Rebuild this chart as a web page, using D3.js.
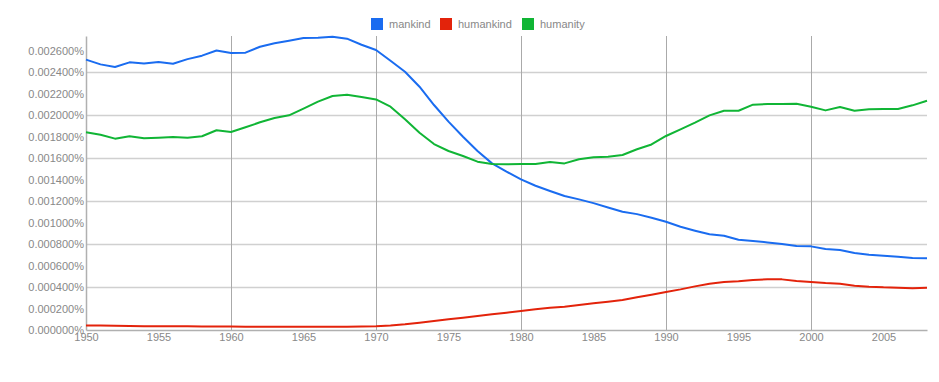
<!DOCTYPE html>
<html>
<head>
<meta charset="utf-8">
<script src="https://cdn.jsdelivr.net/npm/d3@7"></script>
<style>
  body { margin: 0; background: #fff; }
  text { font-family: Arial, "Liberation Sans", sans-serif; }
</style>
</head>
<body>
<div id="chart"></div>
<script>
const years = d3.range(1950, 2009);
const seriesNames = ["mankind", "humankind", "humanity"];
const seriesColors = ["#1a6cf0", "#e3230b", "#10b535"];

const mankind = [
  0.002515, 0.002471, 0.002446, 0.00249, 0.00248, 0.002493, 0.002477, 0.00252, 0.002552, 0.0026,
  0.002577, 0.00258, 0.002635, 0.002667, 0.002691, 0.002716, 0.002719, 0.002728, 0.00271, 0.002654,
  0.002605, 0.002505, 0.002403, 0.002263, 0.002093, 0.001938, 0.001798, 0.001665, 0.00155, 0.001473,
  0.001402, 0.001342, 0.001293, 0.001246, 0.001215, 0.00118, 0.00114, 0.0011, 0.001078, 0.001045,
  0.001007, 0.000961, 0.000924, 0.00089, 0.000877, 0.00084, 0.000828, 0.000815, 0.0008, 0.000781,
  0.000778, 0.000753, 0.000744, 0.000716, 0.0007, 0.000691, 0.000682, 0.00067, 0.000667
];
const humankind = [
  0.000042, 0.000041, 0.00004, 0.000038, 0.000036, 0.000035, 0.000034, 0.000034, 0.000033, 0.000033,
  0.000032, 0.000031, 0.000031, 0.00003, 0.00003, 0.00003, 0.00003, 0.00003, 0.000031, 0.000033,
  0.000036, 0.000043, 0.000053, 0.000068, 0.000084, 0.0001, 0.000115, 0.00013, 0.000146, 0.000161,
  0.000177, 0.000193, 0.000207, 0.000217, 0.000233, 0.000248, 0.000263, 0.000279, 0.000304, 0.000328,
  0.000354, 0.000378, 0.000406, 0.000431, 0.000446, 0.000453, 0.000465, 0.000471, 0.000471, 0.000456,
  0.000446, 0.000437, 0.000431, 0.000412, 0.000403, 0.000397, 0.000394, 0.000388, 0.000394
];
const humanity = [
  0.001839, 0.001817, 0.00178, 0.001802, 0.001783, 0.001789, 0.001795, 0.001789, 0.001802, 0.001858,
  0.001842, 0.001886, 0.001932, 0.001972, 0.001997, 0.002059, 0.002124, 0.002177, 0.002189, 0.002167,
  0.002145, 0.002077, 0.00196, 0.001835, 0.00173, 0.001665, 0.001619, 0.001566, 0.001544, 0.001541,
  0.001544, 0.001544, 0.001563, 0.00155, 0.001588, 0.001607, 0.001612, 0.001628, 0.001681, 0.001726,
  0.001805, 0.001867, 0.001929, 0.001997, 0.00204, 0.00204, 0.002096, 0.002102, 0.002102, 0.002105,
  0.002077, 0.002043, 0.002074, 0.00204, 0.002053, 0.002056, 0.002056, 0.00209, 0.002133
];
const yLabelTicks = [0, 0.0002, 0.0004, 0.0006, 0.0008, 0.001, 0.0012, 0.0014, 0.0016, 0.0018, 0.002, 0.0022, 0.0024, 0.0026];
const yGridTicks = [0.0004, 0.0008, 0.0012, 0.0016, 0.002, 0.0024];
const xLabelTicks = [1950, 1955, 1960, 1965, 1970, 1975, 1980, 1985, 1990, 1995, 2000, 2005];
const xGridTicks = [1960, 1970, 1980, 1990, 2000];

const margin = { top: 36, right: 12, bottom: 52, left: 86 };
const width = 939 - margin.left - margin.right;
const height = 382 - margin.top - margin.bottom;

const svg = d3
  .select("#chart")
  .append("svg")
  .attr("width", 939)
  .attr("height", 382)
  .append("g")
  .attr("transform", `translate(${margin.left},${margin.top})`);

const x = d3.scaleLinear().domain([1950, 2008]).range([0, width]);
const y = d3.scaleLinear().domain([0, 0.002735]).range([height, 0]);

// grid lines
svg
  .append("g")
  .attr("class", "grid")
  .call(d3.axisLeft(y).tickValues(yGridTicks).tickSize(-width).tickFormat(""))
  .call((g) => g.select(".domain").remove())
  .selectAll("line")
  .attr("stroke", "#d0d0d0")
  .attr("stroke-width", 1.3);

svg
  .append("g")
  .attr("class", "grid")
  .attr("transform", `translate(0, ${height})`)
  .call(d3.axisBottom(x).tickValues(xGridTicks).tickSize(-height).tickFormat(""))
  .call((g) => g.select(".domain").remove())
  .selectAll("line")
  .attr("stroke", "#aaaaaa")
  .attr("stroke-width", 1);

// axes (values are already percentages)
const yAxis = svg
  .append("g")
  .call(d3.axisLeft(y).tickValues(yLabelTicks).tickSize(0).tickPadding(2)
    .tickFormat((d) => d.toFixed(6) + "%"));
yAxis.select(".domain").attr("stroke", "#b0b0b0").attr("stroke-width", 1.5);
yAxis.selectAll("text").attr("fill", "#888").style("font-size", "11px");

const xAxis = svg
  .append("g")
  .attr("transform", `translate(0, ${height})`)
  .call(d3.axisBottom(x).tickValues(xLabelTicks).tickSize(0).tickPadding(3)
    .tickFormat(d3.format("d")));
xAxis.select(".domain").attr("stroke", "#b0b0b0").attr("stroke-width", 1.5);
xAxis.selectAll("text").attr("fill", "#888").style("font-size", "11px");

// lines
const allSeries = [mankind, humankind, humanity];
const line = d3
  .line()
  .x((d, i) => x(years[i]))
  .y((d) => y(d));

allSeries.forEach((values, i) => {
  svg
    .append("path")
    .datum(values)
    .attr("fill", "none")
    .attr("stroke", seriesColors[i])
    .attr("stroke-width", 2)
    .attr("stroke-linejoin", "round")
    .attr("d", line);
});

// legend
const legendX = [285, 354, 436];
const legend = svg
  .append("g")
  .attr("transform", `translate(0, ${-margin.top})`);

seriesNames.forEach((name, i) => {
  legend
    .append("rect")
    .attr("x", legendX[i])
    .attr("y", 18)
    .attr("width", 12)
    .attr("height", 12)
    .attr("fill", seriesColors[i]);
  legend
    .append("text")
    .attr("x", legendX[i] + 18)
    .attr("y", 28)
    .attr("fill", "#888")
    .style("font-size", "11px")
    .text(name);
});
</script>
</body>
</html>
